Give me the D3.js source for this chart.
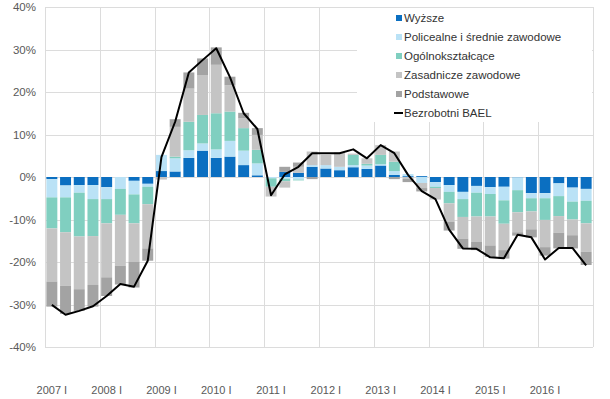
<!DOCTYPE html>
<html>
<head>
<meta charset="utf-8">
<script src="https://cdn.jsdelivr.net/npm/d3@7/dist/d3.min.js"></script>
<style>
  body { margin: 0; background: #fff; }
  svg text { font-family: "Liberation Sans", Arial, sans-serif; }
</style>
</head>
<body>
<div id="chart"></div>
<script>
// kwartały 2007 I - 2016 IV
var kwartaly = [
  "2007 I", "2007 II", "2007 III", "2007 IV", "2008 I", "2008 II", "2008 III", "2008 IV",
  "2009 I", "2009 II", "2009 III", "2009 IV", "2010 I", "2010 II", "2010 III", "2010 IV",
  "2011 I", "2011 II", "2011 III", "2011 IV", "2012 I", "2012 II", "2012 III", "2012 IV",
  "2013 I", "2013 II", "2013 III", "2013 IV", "2014 I", "2014 II", "2014 III", "2014 IV",
  "2015 I", "2015 II", "2015 III", "2015 IV", "2016 I", "2016 II", "2016 III", "2016 IV"
];

var wyzsze = [-0.5, -2.0, -1.9, -1.9, -2.4, 0, -0.9, -1.6, 1.4, 1.3, 4.5, 6.2, 4.5, 4.8, 2.8, 0.4,
  0, 1.2, 1.0, 2.4, 2.0, 1.6, 2.3, 1.9, 2.7, 0.5, 0.2, 0.2, -1.2, -1.9, -3.5, -2.1,
  -2.4, -2.3, -0.1, -3.8, -3.8, -1.5, -2.5, -2.8];
var policealne = [-4.3, -2.8, -1.8, -3.3, -2.8, -2.8, -3.2, -0.7, 3.8, 3.1, 1.8, 1.7, 2.0, 3.7, 3.4, 2.8,
  -0.3, -0.4, -0.6, 0.4, 0.8, 0.8, 0.5, 0.8, 0.3, 0.9, 0.5, -1.4, -1.1, -1.6, -1.7, -1.6,
  -1.6, -3.2, -3.0, -1.2, -1.2, -3.0, -3.3, -2.8];
var ogolnoksztalcace = [-7.3, -8.2, -10.3, -8.7, -5.7, -6.1, -6.8, -4.1, 0, 0.4, 6.7, 6.7, 8.5, 6.9, 5.3, 3.2,
  -2.0, -0.6, -0.2, 0, 0, 0, 2.4, 0.4, 2.2, 2.2, 0, 0, -0.3, -2.7, -4.2, -5.6,
  -5.3, -5.5, -5.2, -3.1, -5.1, -4.7, -4.2, -5.3];
var zasadnicze = [-12.5, -12.6, -12.4, -11.5, -12.7, -12.0, -9.0, -10.4, -0.6, 7.0, 7.8, 9.4, 11.4, 6.2, 2.3, 3.5,
  -2.3, -1.5, 1.4, 3.2, 2.4, 3.4, 0.3, 1.3, 2.3, 2.4, -0.4, -1.2, -2.7, -4.3, -5.1, -5.9,
  -6.8, -6.2, -4.7, -4.2, -6.4, -3.9, -3.7, -6.7];
var podstawowe = [-5.9, -6.6, -5.1, -5.1, -4.4, -4.4, -6.1, -2.9, 0, 1.8, 3.8, 3.9, 4.1, 2.0, 1.3, 1.6,
  0, 1.2, 1.0, -0.5, 0, 0, 0, 0, 0, -0.5, -0.8, -0.8, 0, -2.1, -2.4, -2.0,
  -2.7, -2.0, -0.8, -1.9, -2.0, -3.7, -3.1, -3.1];
var bezrobotni = [-30.1, -32.4, -31.5, -30.4, -28.0, -25.2, -25.8, -19.7, 4.7, 13.0, 24.6, 27.5, 30.3, 23.5, 15.0, 11.3,
  -4.3, 0.6, 2.4, 5.6, 5.6, 5.6, 6.5, 4.4, 7.5, 5.6, 0.5, -3.3, -5.2, -12.4, -16.8, -16.9,
  -18.9, -19.1, -13.6, -14.2, -19.4, -16.7, -16.7, -20.8];

var yTicks = [-40, -30, -20, -10, 0, 10, 20, 30, 40];

var serie = [
  { key: "Wyższe", values: wyzsze, color: "#0b6fc1" },
  { key: "Policealne i średnie zawodowe", values: policealne, color: "#bae2f6" },
  { key: "Ogólnokształcące", values: ogolnoksztalcace, color: "#80cfc0" },
  { key: "Zasadnicze zawodowe", values: zasadnicze, color: "#c4c4c4" },
  { key: "Podstawowe", values: podstawowe, color: "#a3a3a3" }
];

var width = 610, height = 399;
var margin = { top: 7, right: 17, bottom: 52, left: 45 };

var svg = d3.select("#chart")
  .append("svg")
  .attr("width", width)
  .attr("height", height);

var x = d3.scaleBand()
  .domain(kwartaly)
  .range([margin.left, width - margin.right])
  .paddingInner(0.2)
  .paddingOuter(0.1);

var y = d3.scaleLinear()
  .domain([-40, 40])
  .range([height - margin.bottom, margin.top]);

// siatka
var grid = svg.append("g").attr("stroke", "#dcdcdc").attr("stroke-width", 1);
grid.selectAll(".h")
  .data(yTicks)
  .enter().append("line")
  .attr("x1", margin.left)
  .attr("x2", width - margin.right)
  .attr("y1", function (d) { return Math.round(y(d)) + 0.5; })
  .attr("y2", function (d) { return Math.round(y(d)) + 0.5; });

var granice = kwartaly.filter(function (d) { return / I$/.test(d); });
grid.selectAll(".v")
  .data(granice.concat(["end"]))
  .enter().append("line")
  .attr("x1", function (d) { return Math.round(d == "end" ? x.range()[1] : x(d) - x.step() * x.paddingInner() / 2) + 0.5; })
  .attr("x2", function (d) { return Math.round(d == "end" ? x.range()[1] : x(d) - x.step() * x.paddingInner() / 2) + 0.5; })
  .attr("y1", y(40))
  .attr("y2", y(-40));

// słupki
var tabela = kwartaly.map(function (k, i) {
  var row = { kwartal: k };
  serie.forEach(function (s) { row[s.key] = s.values[i]; });
  return row;
});

var stack = d3.stack()
  .keys(serie.map(function (s) { return s.key; }))
  .offset(d3.stackOffsetDiverging);

var warstwy = svg.append("g")
  .selectAll("g")
  .data(stack(tabela))
  .enter().append("g")
  .attr("fill", function (d, i) { return serie[i].color; });

warstwy.selectAll("rect")
  .data(function (d) { return d; })
  .enter().append("rect")
  .attr("x", function (d) { return x(d.data.kwartal); })
  .attr("width", x.bandwidth())
  .attr("y", function (d) { return y(Math.max(d[0], d[1])); })
  .attr("height", function (d) { return Math.abs(y(d[0]) - y(d[1])); });

// linia
var line_generator = d3.line()
  .x(function (d, i) { return x(kwartaly[i]) + x.bandwidth() / 2; })
  .y(function (d) { return y(d); });

svg.append("path")
  .datum(bezrobotni)
  .attr("fill", "none")
  .attr("stroke", "#000")
  .attr("stroke-width", 2)
  .attr("stroke-linejoin", "round")
  .attr("d", line_generator);

// osie
var yAxis = svg.append("g")
  .attr("transform", "translate(" + (margin.left - 9) + ",0)")
  .call(d3.axisLeft(y).tickValues(yTicks).tickSize(0).tickFormat(function (d) { return d + "%"; }));
yAxis.select(".domain").remove();
yAxis.selectAll("text")
  .attr("x", 0)
  .attr("fill", "#595959")
  .style("font-size", "11.5px");

var xAxis = svg.append("g")
  .attr("transform", "translate(0," + 383 + ")")
  .call(d3.axisBottom(x).tickValues(granice).tickSize(0));
xAxis.select(".domain").remove();
xAxis.selectAll("text")
  .attr("fill", "#595959")
  .style("font-size", "11px");

// legenda
var legenda = svg.append("g");
legenda.append("rect")
  .attr("x", 357)
  .attr("y", 8)
  .attr("width", 235)
  .attr("height", 114)
  .attr("fill", "#fff");

var pozycje = serie.map(function (s) { return { key: s.key, color: s.color }; })
  .concat([{ key: "Bezrobotni BAEL", color: "#000", linia: true }]);

var wpis = legenda.selectAll(".wpis")
  .data(pozycje)
  .enter().append("g")
  .attr("transform", function (d, i) { return "translate(396," + (18 + i * 19) + ")"; });

wpis.filter(function (d) { return !d.linia; })
  .append("rect")
  .attr("x", 0)
  .attr("y", -3)
  .attr("width", 6)
  .attr("height", 6)
  .attr("fill", function (d) { return d.color; });

wpis.filter(function (d) { return d.linia; })
  .append("line")
  .attr("x1", -2)
  .attr("x2", 7)
  .attr("stroke", "#000")
  .attr("stroke-width", 2);

wpis.append("text")
  .attr("x", 8)
  .attr("dy", "0.35em")
  .attr("fill", "#333")
  .style("font-size", "11.5px")
  .text(function (d) { return d.key; });
</script>
</body>
</html>
